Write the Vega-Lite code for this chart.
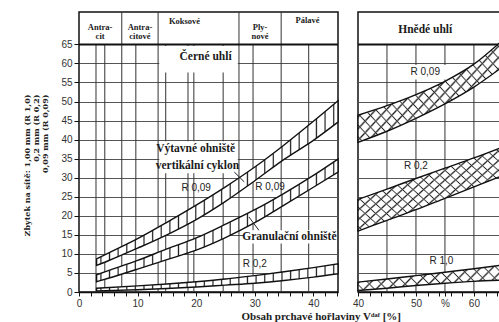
{
  "$schema": "https://vega.github.io/schema/vega-lite/v6.json",
  "autosize": {"type": "pad"},
  "padding": {"left": 22, "top": 10, "right": 0, "bottom": 0},
  "background": "white",
  "spacing": 20,
  "bounds": "flush",
  "config": {
    "view": {"stroke": "#111", "strokeWidth": 1.5},
    "axis": {"labelFont": "Liberation Sans", "labelFontSize": 10, "labelColor": "#333", "tickColor": "#111", "domainColor": "#111", "gridColor": "#555", "gridWidth": 1}
  },
  "resolve": {"scale": {"x": "independent", "y": "independent"}},
  "datasets": {
    "bandsL": [
      {"band": "V", "x": 3, "y": 7.0, "y2": 8.7},
      {"band": "V", "x": 5, "y": 8.2, "y2": 10.2},
      {"band": "V", "x": 10, "y": 11.5, "y2": 14.0},
      {"band": "V", "x": 15, "y": 15.0, "y2": 18.3},
      {"band": "V", "x": 20, "y": 19.0, "y2": 22.8},
      {"band": "V", "x": 25, "y": 23.8, "y2": 27.6},
      {"band": "V", "x": 30, "y": 29.2, "y2": 32.8},
      {"band": "V", "x": 35, "y": 34.8, "y2": 38.6},
      {"band": "V", "x": 40, "y": 39.8, "y2": 44.8},
      {"band": "V", "x": 44.2, "y": 44.6, "y2": 50.2},
      {"band": "G", "x": 3, "y": 2.7, "y2": 4.5},
      {"band": "G", "x": 5, "y": 3.6, "y2": 5.6},
      {"band": "G", "x": 10, "y": 6.0, "y2": 8.3},
      {"band": "G", "x": 15, "y": 8.5, "y2": 11.3},
      {"band": "G", "x": 20, "y": 11.0, "y2": 14.2},
      {"band": "G", "x": 25, "y": 14.3, "y2": 17.8},
      {"band": "G", "x": 30, "y": 18.2, "y2": 21.6},
      {"band": "G", "x": 35, "y": 22.8, "y2": 25.9},
      {"band": "G", "x": 40, "y": 27.5, "y2": 30.6},
      {"band": "G", "x": 44.2, "y": 31.5, "y2": 34.9},
      {"band": "R", "x": 3, "y": 0.3, "y2": 1.0},
      {"band": "R", "x": 10, "y": 0.6, "y2": 1.6},
      {"band": "R", "x": 15, "y": 0.9, "y2": 2.1},
      {"band": "R", "x": 20, "y": 1.3, "y2": 2.7},
      {"band": "R", "x": 25, "y": 1.8, "y2": 3.4},
      {"band": "R", "x": 30, "y": 2.3, "y2": 4.3},
      {"band": "R", "x": 35, "y": 3.0, "y2": 5.3},
      {"band": "R", "x": 40, "y": 3.9, "y2": 6.4},
      {"band": "R", "x": 44.2, "y": 4.8, "y2": 7.4}
    ],
    "vlL": [
      {"x": 2.9, "y": 0, "y2": 65},
      {"x": 4.4, "y": 0, "y2": 65},
      {"x": 7.3, "y": 0, "y2": 73.5},
      {"x": 9.7, "y": 0, "y2": 65},
      {"x": 13.5, "y": 0, "y2": 73.5},
      {"x": 14.8, "y": 0, "y2": 65},
      {"x": 18.6, "y": 0, "y2": 65},
      {"x": 19.6, "y": 0, "y2": 65},
      {"x": 24.6, "y": 0, "y2": 65},
      {"x": 27.3, "y": 0, "y2": 73.5},
      {"x": 29.7, "y": 0, "y2": 65},
      {"x": 34.5, "y": 0, "y2": 73.5},
      {"x": 39.2, "y": 0, "y2": 65}
    ],
    "boxL": [
      {"x": 13.7, "x2": 27.1, "y": 57.6, "y2": 64.6},
      {"x": 13.7, "x2": 27.1, "y": 31.2, "y2": 39.6},
      {"x": 28.1, "x2": 44.0, "y": 12.7, "y2": 16.2}
    ],
    "hdrL": [{"x": 0, "x2": 44.2, "y": 65}],
    "labL": [
      {"k": "h", "x": 3.6, "y": 69.6, "t": "Antra-\ncit"},
      {"k": "h", "x": 10.4, "y": 69.6, "t": "Antra-\ncitové"},
      {"k": "h", "x": 18.0, "y": 71.2, "t": "Koksové"},
      {"k": "h", "x": 30.9, "y": 69.6, "t": "Ply-\nnové"},
      {"k": "h", "x": 39.0, "y": 71.4, "t": "Pálavé"},
      {"k": "s", "x": 21.6, "y": 61.8, "t": "Černé uhlí"},
      {"k": "s", "x": 19.9, "y": 37.5, "t": "Výtavné ohniště"},
      {"k": "s", "x": 20.2, "y": 33.0, "t": "vertikální cyklon"},
      {"k": "s", "x": 35.9, "y": 14.4, "t": "Granulační ohniště"},
      {"k": "r", "x": 20.0, "y": 27.3, "t": "R 0,09"},
      {"k": "r", "x": 32.6, "y": 27.5, "t": "R 0,09"},
      {"k": "r", "x": 30.0, "y": 7.3, "t": "R 0,2"}
    ],
    "ldL": [
      {"x": 26.5, "y": 31.5, "x2": 28.2, "y2": 28.9},
      {"x": 29.0, "y": 19.7, "x2": 30.7, "y2": 16.2}
    ],
    "bandsR": [
      {"band": "R009", "x": 40, "y": 39.3, "y2": 46.4},
      {"band": "R009", "x": 45, "y": 42.2, "y2": 48.9},
      {"band": "R009", "x": 50, "y": 45.6, "y2": 51.8},
      {"band": "R009", "x": 55, "y": 49.4, "y2": 55.3},
      {"band": "R009", "x": 60, "y": 53.8, "y2": 59.8},
      {"band": "R009", "x": 64.5, "y": 58.6, "y2": 65.5},
      {"band": "R02", "x": 40, "y": 16.0, "y2": 24.3},
      {"band": "R02", "x": 45, "y": 18.8, "y2": 27.0},
      {"band": "R02", "x": 50, "y": 21.6, "y2": 29.8},
      {"band": "R02", "x": 55, "y": 24.6, "y2": 32.5},
      {"band": "R02", "x": 60, "y": 27.6, "y2": 35.2},
      {"band": "R02", "x": 64.5, "y": 30.3, "y2": 37.8},
      {"band": "R10", "x": 40, "y": 0.4, "y2": 2.6},
      {"band": "R10", "x": 45, "y": 1.0, "y2": 3.4},
      {"band": "R10", "x": 50, "y": 1.7, "y2": 4.3},
      {"band": "R10", "x": 55, "y": 2.3, "y2": 5.2},
      {"band": "R10", "x": 60, "y": 2.8, "y2": 6.1},
      {"band": "R10", "x": 64.5, "y": 3.1, "y2": 7.0}
    ],
    "vlR": [
      {"x": 45, "y": 0, "y2": 65},
      {"x": 50, "y": 0, "y2": 65},
      {"x": 55, "y": 0, "y2": 65},
      {"x": 60, "y": 0, "y2": 65}
    ],
    "hdrR": [{"x": 40, "x2": 64.5, "y": 65}],
    "boxR": [{"x": 47.5, "x2": 55.8, "y": 55.8, "y2": 59.6}],
    "labR": [
      {"k": "s", "x": 51.6, "y": 68.9, "t": "Hnědé uhlí"},
      {"k": "r", "x": 51.6, "y": 57.7, "t": "R 0,09"},
      {"k": "r", "x": 50.0, "y": 33.0, "t": "R 0,2"},
      {"k": "r", "x": 54.4, "y": 8.1, "t": "R 1,0"}
    ]
  },
  "hconcat": [
    {
      "width": 259,
      "height": 280,
      "encoding": {
        "x": {"field": "x", "type": "quantitative", "scale": {"domain": [0, 44.2], "nice": false, "zero": false},
          "axis": {"values": [0,2,4,6,8,10,12,14,16,18,20,22,24,26,28,30,32,34,36,38,40,42,44], "labelExpr": "datum.value % 10 === 0 ? datum.label : ''", "tickSize": 4, "labelPadding": 2, "grid": false, "domainWidth": 1.5, "labelFlush": false,
            "title": "Obsah prchavé hořlaviny Vᵈᵃᶠ [%]", "titleFont": "Liberation Serif", "titleFontSize": 11, "titleFontWeight": "bold", "titleColor": "#222", "titleX": 162, "titleY": 27, "titleAlign": "left", "titleBaseline": "alphabetic", "titleAnchor": "start"}},
        "y": {"field": "y", "type": "quantitative", "scale": {"domain": [0, 73.5], "nice": false, "zero": false},
          "axis": {"values": [0,5,10,15,20,25,30,35,40,45,50,55,60,65], "grid": true, "tickSize": 5, "labelPadding": 2, "domain": false,
            "title": ["Zbytek na sítě:  1,00 mm (R 1,0)", "0,2   mm (R 0,2)", "0,09 mm (R 0,09)"], "titleFont": "DejaVu Serif", "titleFontSize": 8, "titleFontWeight": "bold", "titleColor": "#222", "titleAngle": -90, "titleAlign": "right", "titleBaseline": "top", "titleX": -56, "titleY": 82, "titleLineHeight": 9}}
      },
      "layer": [
        {"data": {"name": "vlL"}, "mark": {"type": "rule", "stroke": "#333", "strokeWidth": 1}, "encoding": {"y2": {"field": "y2"}}},
        {"data": {"name": "boxL"}, "mark": {"type": "rect", "fill": "white"}, "encoding": {"x2": {"field": "x2"}, "y2": {"field": "y2"}}},
        {"data": {"name": "hdrL"}, "mark": {"type": "rule", "stroke": "#111", "strokeWidth": 2}, "encoding": {"x2": {"field": "x2"}}},
        {"data": {"name": "bandsL"}, "mark": {"type": "area", "interpolate": "monotone", "stroke": "#111", "strokeWidth": 1.4,
          "fill": {"gradient": "linear", "x1": 0, "y1": 0, "x2": 1, "y2": 0, "stops": [
            {"offset": 0.0129, "color": "#fff"}, {"offset": 0.0179, "color": "#222"}, {"offset": 0.0229, "color": "#fff"},
            {"offset": 0.0486, "color": "#fff"}, {"offset": 0.0536, "color": "#222"}, {"offset": 0.0586, "color": "#fff"},
            {"offset": 0.0843, "color": "#fff"}, {"offset": 0.0893, "color": "#222"}, {"offset": 0.0943, "color": "#fff"},
            {"offset": 0.1200, "color": "#fff"}, {"offset": 0.1250, "color": "#222"}, {"offset": 0.1300, "color": "#fff"},
            {"offset": 0.1557, "color": "#fff"}, {"offset": 0.1607, "color": "#222"}, {"offset": 0.1657, "color": "#fff"},
            {"offset": 0.1914, "color": "#fff"}, {"offset": 0.1964, "color": "#222"}, {"offset": 0.2014, "color": "#fff"},
            {"offset": 0.2271, "color": "#fff"}, {"offset": 0.2321, "color": "#222"}, {"offset": 0.2371, "color": "#fff"},
            {"offset": 0.2629, "color": "#fff"}, {"offset": 0.2679, "color": "#222"}, {"offset": 0.2729, "color": "#fff"},
            {"offset": 0.2986, "color": "#fff"}, {"offset": 0.3036, "color": "#222"}, {"offset": 0.3086, "color": "#fff"},
            {"offset": 0.3343, "color": "#fff"}, {"offset": 0.3393, "color": "#222"}, {"offset": 0.3443, "color": "#fff"},
            {"offset": 0.3700, "color": "#fff"}, {"offset": 0.3750, "color": "#222"}, {"offset": 0.3800, "color": "#fff"},
            {"offset": 0.4057, "color": "#fff"}, {"offset": 0.4107, "color": "#222"}, {"offset": 0.4157, "color": "#fff"},
            {"offset": 0.4414, "color": "#fff"}, {"offset": 0.4464, "color": "#222"}, {"offset": 0.4514, "color": "#fff"},
            {"offset": 0.4771, "color": "#fff"}, {"offset": 0.4821, "color": "#222"}, {"offset": 0.4871, "color": "#fff"},
            {"offset": 0.5129, "color": "#fff"}, {"offset": 0.5179, "color": "#222"}, {"offset": 0.5229, "color": "#fff"},
            {"offset": 0.5486, "color": "#fff"}, {"offset": 0.5536, "color": "#222"}, {"offset": 0.5586, "color": "#fff"},
            {"offset": 0.5843, "color": "#fff"}, {"offset": 0.5893, "color": "#222"}, {"offset": 0.5943, "color": "#fff"},
            {"offset": 0.6200, "color": "#fff"}, {"offset": 0.6250, "color": "#222"}, {"offset": 0.6300, "color": "#fff"},
            {"offset": 0.6557, "color": "#fff"}, {"offset": 0.6607, "color": "#222"}, {"offset": 0.6657, "color": "#fff"},
            {"offset": 0.6914, "color": "#fff"}, {"offset": 0.6964, "color": "#222"}, {"offset": 0.7014, "color": "#fff"},
            {"offset": 0.7271, "color": "#fff"}, {"offset": 0.7321, "color": "#222"}, {"offset": 0.7371, "color": "#fff"},
            {"offset": 0.7629, "color": "#fff"}, {"offset": 0.7679, "color": "#222"}, {"offset": 0.7729, "color": "#fff"},
            {"offset": 0.7986, "color": "#fff"}, {"offset": 0.8036, "color": "#222"}, {"offset": 0.8086, "color": "#fff"},
            {"offset": 0.8343, "color": "#fff"}, {"offset": 0.8393, "color": "#222"}, {"offset": 0.8443, "color": "#fff"},
            {"offset": 0.8700, "color": "#fff"}, {"offset": 0.8750, "color": "#222"}, {"offset": 0.8800, "color": "#fff"},
            {"offset": 0.9057, "color": "#fff"}, {"offset": 0.9107, "color": "#222"}, {"offset": 0.9157, "color": "#fff"},
            {"offset": 0.9414, "color": "#fff"}, {"offset": 0.9464, "color": "#222"}, {"offset": 0.9514, "color": "#fff"},
            {"offset": 0.9771, "color": "#fff"}, {"offset": 0.9821, "color": "#222"}, {"offset": 0.9871, "color": "#fff"}
          ]}},
          "encoding": {"y2": {"field": "y2"}, "detail": {"field": "band"}}},
        {"data": {"name": "ldL"}, "mark": {"type": "rule", "stroke": "#222", "strokeWidth": 1}, "encoding": {"x2": {"field": "x2"}, "y2": {"field": "y2"}}},
        {"data": {"name": "labL"}, "transform": [{"filter": "datum.k == 'h'"}], "mark": {"type": "text", "font": "Liberation Serif", "fontWeight": "bold", "fontSize": 8.5, "lineHeight": 9, "lineBreak": "\n", "baseline": "middle", "align": "center", "color": "#222"}, "encoding": {"text": {"field": "t"}}},
        {"data": {"name": "labL"}, "transform": [{"filter": "datum.k == 's'"}], "mark": {"type": "text", "font": "Liberation Serif", "fontWeight": "bold", "fontSize": 11.5, "baseline": "middle", "align": "center", "color": "#1a1a1a"}, "encoding": {"text": {"field": "t"}}},
        {"data": {"name": "labL"}, "transform": [{"filter": "datum.k == 'r'"}], "mark": {"type": "text", "font": "Liberation Sans", "fontSize": 10, "baseline": "middle", "align": "center", "color": "#222"}, "encoding": {"text": {"field": "t"}}}
      ]
    },
    {
      "width": 142,
      "height": 280,
      "encoding": {
        "x": {"field": "x", "type": "quantitative", "scale": {"domain": [40, 64.5], "nice": false, "zero": false},
          "axis": {"values": [40,42,44,46,48,50,52,54,55,56,58,60,62,64], "labelExpr": "datum.value == 55 ? '%' : (datum.value % 10 == 0 ? datum.label : '')", "tickSize": 4, "labelPadding": 2, "grid": false, "domainWidth": 1.5, "labelFlush": false, "title": null}},
        "y": {"field": "y", "type": "quantitative", "scale": {"domain": [0, 73.5], "nice": false, "zero": false},
          "axis": {"values": [0,5,10,15,20,25,30,35,40,45,50,55,60,65], "grid": true, "labels": false, "ticks": false, "domain": false, "title": null}}
      },
      "layer": [
        {"data": {"name": "vlR"}, "mark": {"type": "rule", "stroke": "#333", "strokeWidth": 1}, "encoding": {"y2": {"field": "y2"}}},
        {"data": {"name": "boxR"}, "mark": {"type": "rect", "fill": "white"}, "encoding": {"x2": {"field": "x2"}, "y2": {"field": "y2"}}},
        {"data": {"name": "hdrR"}, "mark": {"type": "rule", "stroke": "#111", "strokeWidth": 2}, "encoding": {"x2": {"field": "x2"}}},
        {"data": {"name": "bandsR"}, "transform": [{"filter": "datum.band != 'R10'"}], "mark": {"type": "area", "interpolate": "monotone",
          "fill": {"gradient": "linear", "x1": 0, "y1": 0, "x2": 1.16, "y2": 0.754, "stops": [
            {"offset": 0.0147, "color": "#fff"}, {"offset": 0.0227, "color": "#222"}, {"offset": 0.0307, "color": "#fff"},
            {"offset": 0.0602, "color": "#fff"}, {"offset": 0.0682, "color": "#222"}, {"offset": 0.0762, "color": "#fff"},
            {"offset": 0.1056, "color": "#fff"}, {"offset": 0.1136, "color": "#222"}, {"offset": 0.1216, "color": "#fff"},
            {"offset": 0.1511, "color": "#fff"}, {"offset": 0.1591, "color": "#222"}, {"offset": 0.1671, "color": "#fff"},
            {"offset": 0.1965, "color": "#fff"}, {"offset": 0.2045, "color": "#222"}, {"offset": 0.2125, "color": "#fff"},
            {"offset": 0.2420, "color": "#fff"}, {"offset": 0.2500, "color": "#222"}, {"offset": 0.2580, "color": "#fff"},
            {"offset": 0.2875, "color": "#fff"}, {"offset": 0.2955, "color": "#222"}, {"offset": 0.3035, "color": "#fff"},
            {"offset": 0.3329, "color": "#fff"}, {"offset": 0.3409, "color": "#222"}, {"offset": 0.3489, "color": "#fff"},
            {"offset": 0.3784, "color": "#fff"}, {"offset": 0.3864, "color": "#222"}, {"offset": 0.3944, "color": "#fff"},
            {"offset": 0.4238, "color": "#fff"}, {"offset": 0.4318, "color": "#222"}, {"offset": 0.4398, "color": "#fff"},
            {"offset": 0.4693, "color": "#fff"}, {"offset": 0.4773, "color": "#222"}, {"offset": 0.4853, "color": "#fff"},
            {"offset": 0.5147, "color": "#fff"}, {"offset": 0.5227, "color": "#222"}, {"offset": 0.5307, "color": "#fff"},
            {"offset": 0.5602, "color": "#fff"}, {"offset": 0.5682, "color": "#222"}, {"offset": 0.5762, "color": "#fff"},
            {"offset": 0.6056, "color": "#fff"}, {"offset": 0.6136, "color": "#222"}, {"offset": 0.6216, "color": "#fff"},
            {"offset": 0.6511, "color": "#fff"}, {"offset": 0.6591, "color": "#222"}, {"offset": 0.6671, "color": "#fff"},
            {"offset": 0.6965, "color": "#fff"}, {"offset": 0.7045, "color": "#222"}, {"offset": 0.7125, "color": "#fff"},
            {"offset": 0.7420, "color": "#fff"}, {"offset": 0.7500, "color": "#222"}, {"offset": 0.7580, "color": "#fff"},
            {"offset": 0.7875, "color": "#fff"}, {"offset": 0.7955, "color": "#222"}, {"offset": 0.8035, "color": "#fff"},
            {"offset": 0.8329, "color": "#fff"}, {"offset": 0.8409, "color": "#222"}, {"offset": 0.8489, "color": "#fff"},
            {"offset": 0.8784, "color": "#fff"}, {"offset": 0.8864, "color": "#222"}, {"offset": 0.8944, "color": "#fff"},
            {"offset": 0.9238, "color": "#fff"}, {"offset": 0.9318, "color": "#222"}, {"offset": 0.9398, "color": "#fff"},
            {"offset": 0.9693, "color": "#fff"}, {"offset": 0.9773, "color": "#222"}, {"offset": 0.9853, "color": "#fff"}
          ]}},
          "encoding": {"y2": {"field": "y2"}, "detail": {"field": "band"}}},
        {"data": {"name": "bandsR"}, "transform": [{"filter": "datum.band != 'R10'"}], "mark": {"type": "area", "interpolate": "monotone", "stroke": "#111", "strokeWidth": 1.4,
          "fill": {"gradient": "linear", "x1": 0, "y1": 1, "x2": 1.16, "y2": 0.246, "stops": [
            {"offset": 0.0147, "color": "rgba(255,255,255,0)"}, {"offset": 0.0227, "color": "#222"}, {"offset": 0.0307, "color": "rgba(255,255,255,0)"},
            {"offset": 0.0602, "color": "rgba(255,255,255,0)"}, {"offset": 0.0682, "color": "#222"}, {"offset": 0.0762, "color": "rgba(255,255,255,0)"},
            {"offset": 0.1056, "color": "rgba(255,255,255,0)"}, {"offset": 0.1136, "color": "#222"}, {"offset": 0.1216, "color": "rgba(255,255,255,0)"},
            {"offset": 0.1511, "color": "rgba(255,255,255,0)"}, {"offset": 0.1591, "color": "#222"}, {"offset": 0.1671, "color": "rgba(255,255,255,0)"},
            {"offset": 0.1965, "color": "rgba(255,255,255,0)"}, {"offset": 0.2045, "color": "#222"}, {"offset": 0.2125, "color": "rgba(255,255,255,0)"},
            {"offset": 0.2420, "color": "rgba(255,255,255,0)"}, {"offset": 0.2500, "color": "#222"}, {"offset": 0.2580, "color": "rgba(255,255,255,0)"},
            {"offset": 0.2875, "color": "rgba(255,255,255,0)"}, {"offset": 0.2955, "color": "#222"}, {"offset": 0.3035, "color": "rgba(255,255,255,0)"},
            {"offset": 0.3329, "color": "rgba(255,255,255,0)"}, {"offset": 0.3409, "color": "#222"}, {"offset": 0.3489, "color": "rgba(255,255,255,0)"},
            {"offset": 0.3784, "color": "rgba(255,255,255,0)"}, {"offset": 0.3864, "color": "#222"}, {"offset": 0.3944, "color": "rgba(255,255,255,0)"},
            {"offset": 0.4238, "color": "rgba(255,255,255,0)"}, {"offset": 0.4318, "color": "#222"}, {"offset": 0.4398, "color": "rgba(255,255,255,0)"},
            {"offset": 0.4693, "color": "rgba(255,255,255,0)"}, {"offset": 0.4773, "color": "#222"}, {"offset": 0.4853, "color": "rgba(255,255,255,0)"},
            {"offset": 0.5147, "color": "rgba(255,255,255,0)"}, {"offset": 0.5227, "color": "#222"}, {"offset": 0.5307, "color": "rgba(255,255,255,0)"},
            {"offset": 0.5602, "color": "rgba(255,255,255,0)"}, {"offset": 0.5682, "color": "#222"}, {"offset": 0.5762, "color": "rgba(255,255,255,0)"},
            {"offset": 0.6056, "color": "rgba(255,255,255,0)"}, {"offset": 0.6136, "color": "#222"}, {"offset": 0.6216, "color": "rgba(255,255,255,0)"},
            {"offset": 0.6511, "color": "rgba(255,255,255,0)"}, {"offset": 0.6591, "color": "#222"}, {"offset": 0.6671, "color": "rgba(255,255,255,0)"},
            {"offset": 0.6965, "color": "rgba(255,255,255,0)"}, {"offset": 0.7045, "color": "#222"}, {"offset": 0.7125, "color": "rgba(255,255,255,0)"},
            {"offset": 0.7420, "color": "rgba(255,255,255,0)"}, {"offset": 0.7500, "color": "#222"}, {"offset": 0.7580, "color": "rgba(255,255,255,0)"},
            {"offset": 0.7875, "color": "rgba(255,255,255,0)"}, {"offset": 0.7955, "color": "#222"}, {"offset": 0.8035, "color": "rgba(255,255,255,0)"},
            {"offset": 0.8329, "color": "rgba(255,255,255,0)"}, {"offset": 0.8409, "color": "#222"}, {"offset": 0.8489, "color": "rgba(255,255,255,0)"},
            {"offset": 0.8784, "color": "rgba(255,255,255,0)"}, {"offset": 0.8864, "color": "#222"}, {"offset": 0.8944, "color": "rgba(255,255,255,0)"},
            {"offset": 0.9238, "color": "rgba(255,255,255,0)"}, {"offset": 0.9318, "color": "#222"}, {"offset": 0.9398, "color": "rgba(255,255,255,0)"},
            {"offset": 0.9693, "color": "rgba(255,255,255,0)"}, {"offset": 0.9773, "color": "#222"}, {"offset": 0.9853, "color": "rgba(255,255,255,0)"}
          ]}},
          "encoding": {"y2": {"field": "y2"}, "detail": {"field": "band"}}},
        {"data": {"name": "bandsR"}, "transform": [{"filter": "datum.band == 'R10'"}], "mark": {"type": "area", "interpolate": "monotone",
          "fill": {"gradient": "linear", "x1": 0, "y1": 0, "x2": 1.14, "y2": 0.2, "stops": [
            {"offset": 0.0247, "color": "#fff"}, {"offset": 0.0357, "color": "#222"}, {"offset": 0.0467, "color": "#fff"},
            {"offset": 0.0961, "color": "#fff"}, {"offset": 0.1071, "color": "#222"}, {"offset": 0.1181, "color": "#fff"},
            {"offset": 0.1676, "color": "#fff"}, {"offset": 0.1786, "color": "#222"}, {"offset": 0.1896, "color": "#fff"},
            {"offset": 0.2390, "color": "#fff"}, {"offset": 0.2500, "color": "#222"}, {"offset": 0.2610, "color": "#fff"},
            {"offset": 0.3104, "color": "#fff"}, {"offset": 0.3214, "color": "#222"}, {"offset": 0.3324, "color": "#fff"},
            {"offset": 0.3819, "color": "#fff"}, {"offset": 0.3929, "color": "#222"}, {"offset": 0.4039, "color": "#fff"},
            {"offset": 0.4533, "color": "#fff"}, {"offset": 0.4643, "color": "#222"}, {"offset": 0.4753, "color": "#fff"},
            {"offset": 0.5247, "color": "#fff"}, {"offset": 0.5357, "color": "#222"}, {"offset": 0.5467, "color": "#fff"},
            {"offset": 0.5961, "color": "#fff"}, {"offset": 0.6071, "color": "#222"}, {"offset": 0.6181, "color": "#fff"},
            {"offset": 0.6676, "color": "#fff"}, {"offset": 0.6786, "color": "#222"}, {"offset": 0.6896, "color": "#fff"},
            {"offset": 0.7390, "color": "#fff"}, {"offset": 0.7500, "color": "#222"}, {"offset": 0.7610, "color": "#fff"},
            {"offset": 0.8104, "color": "#fff"}, {"offset": 0.8214, "color": "#222"}, {"offset": 0.8324, "color": "#fff"},
            {"offset": 0.8819, "color": "#fff"}, {"offset": 0.8929, "color": "#222"}, {"offset": 0.9039, "color": "#fff"},
            {"offset": 0.9533, "color": "#fff"}, {"offset": 0.9643, "color": "#222"}, {"offset": 0.9753, "color": "#fff"}
          ]}},
          "encoding": {"y2": {"field": "y2"}, "detail": {"field": "band"}}},
        {"data": {"name": "bandsR"}, "transform": [{"filter": "datum.band == 'R10'"}], "mark": {"type": "area", "interpolate": "monotone", "stroke": "#111", "strokeWidth": 1.4,
          "fill": {"gradient": "linear", "x1": 0, "y1": 1, "x2": 1.14, "y2": 0.8, "stops": [
            {"offset": 0.0247, "color": "rgba(255,255,255,0)"}, {"offset": 0.0357, "color": "#222"}, {"offset": 0.0467, "color": "rgba(255,255,255,0)"},
            {"offset": 0.0961, "color": "rgba(255,255,255,0)"}, {"offset": 0.1071, "color": "#222"}, {"offset": 0.1181, "color": "rgba(255,255,255,0)"},
            {"offset": 0.1676, "color": "rgba(255,255,255,0)"}, {"offset": 0.1786, "color": "#222"}, {"offset": 0.1896, "color": "rgba(255,255,255,0)"},
            {"offset": 0.2390, "color": "rgba(255,255,255,0)"}, {"offset": 0.2500, "color": "#222"}, {"offset": 0.2610, "color": "rgba(255,255,255,0)"},
            {"offset": 0.3104, "color": "rgba(255,255,255,0)"}, {"offset": 0.3214, "color": "#222"}, {"offset": 0.3324, "color": "rgba(255,255,255,0)"},
            {"offset": 0.3819, "color": "rgba(255,255,255,0)"}, {"offset": 0.3929, "color": "#222"}, {"offset": 0.4039, "color": "rgba(255,255,255,0)"},
            {"offset": 0.4533, "color": "rgba(255,255,255,0)"}, {"offset": 0.4643, "color": "#222"}, {"offset": 0.4753, "color": "rgba(255,255,255,0)"},
            {"offset": 0.5247, "color": "rgba(255,255,255,0)"}, {"offset": 0.5357, "color": "#222"}, {"offset": 0.5467, "color": "rgba(255,255,255,0)"},
            {"offset": 0.5961, "color": "rgba(255,255,255,0)"}, {"offset": 0.6071, "color": "#222"}, {"offset": 0.6181, "color": "rgba(255,255,255,0)"},
            {"offset": 0.6676, "color": "rgba(255,255,255,0)"}, {"offset": 0.6786, "color": "#222"}, {"offset": 0.6896, "color": "rgba(255,255,255,0)"},
            {"offset": 0.7390, "color": "rgba(255,255,255,0)"}, {"offset": 0.7500, "color": "#222"}, {"offset": 0.7610, "color": "rgba(255,255,255,0)"},
            {"offset": 0.8104, "color": "rgba(255,255,255,0)"}, {"offset": 0.8214, "color": "#222"}, {"offset": 0.8324, "color": "rgba(255,255,255,0)"},
            {"offset": 0.8819, "color": "rgba(255,255,255,0)"}, {"offset": 0.8929, "color": "#222"}, {"offset": 0.9039, "color": "rgba(255,255,255,0)"},
            {"offset": 0.9533, "color": "rgba(255,255,255,0)"}, {"offset": 0.9643, "color": "#222"}, {"offset": 0.9753, "color": "rgba(255,255,255,0)"}
          ]}},
          "encoding": {"y2": {"field": "y2"}, "detail": {"field": "band"}}},
        {"data": {"name": "labR"}, "transform": [{"filter": "datum.k == 's'"}], "mark": {"type": "text", "font": "Liberation Serif", "fontWeight": "bold", "fontSize": 11.5, "baseline": "middle", "align": "center", "color": "#1a1a1a"}, "encoding": {"text": {"field": "t"}}},
        {"data": {"name": "labR"}, "transform": [{"filter": "datum.k == 'r'"}], "mark": {"type": "text", "font": "Liberation Sans", "fontSize": 10, "baseline": "middle", "align": "center", "color": "#222"}, "encoding": {"text": {"field": "t"}}}
      ]
    }
  ]
}
